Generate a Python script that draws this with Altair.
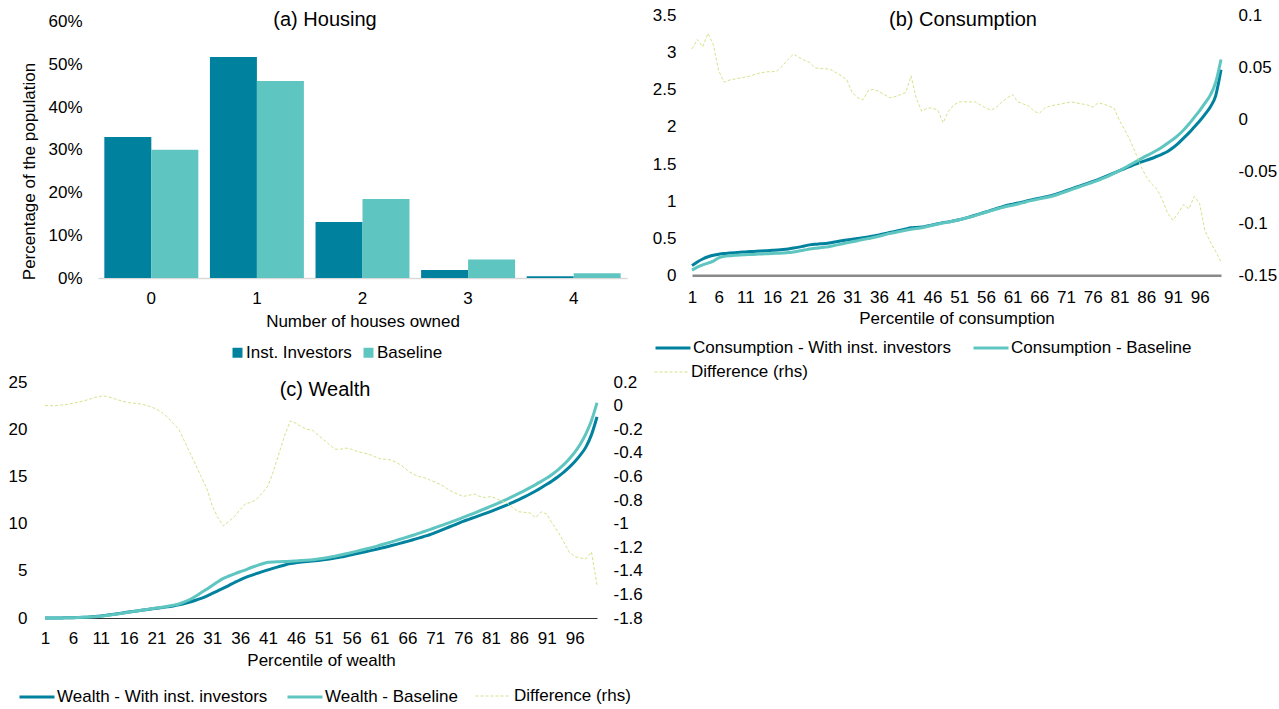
import altair as alt
import pandas as pd

FONT = "Liberation Sans"
DARK = "#00819E"
LIGHT = "#5EC5C1"
DIFF = "#D4E38A"
W, H = 1279, 709

# ---------------- data ----------------
houses = ["0", "1", "2", "3", "4"]
housing_groups = ["Inst. Investors", "Baseline"]
housing_inst = [33.0, 51.7, 13.1, 1.9, 0.4]
housing_base = [30.0, 46.1, 18.5, 4.3, 1.1]

percentiles = list(range(1, 101))
pct_ticks = [1, 6, 11, 16, 21, 26, 31, 36, 41, 46, 51, 56, 61, 66, 71, 76, 81, 86, 91, 96]

cons_series = ["Consumption - With inst. investors", "Consumption - Baseline"]
cons_inst = [0.13, 0.18, 0.22, 0.25, 0.27, 0.285, 0.295, 0.30, 0.305, 0.31,
             0.315, 0.32, 0.323, 0.327, 0.332, 0.337, 0.342, 0.348, 0.356, 0.367,
             0.38, 0.395, 0.41, 0.42, 0.425, 0.43, 0.44, 0.452, 0.465, 0.477,
             0.487, 0.497, 0.507, 0.518, 0.53, 0.545, 0.56, 0.576, 0.592, 0.608,
             0.625, 0.64, 0.645, 0.65, 0.665, 0.68, 0.695, 0.71, 0.72, 0.735,
             0.75, 0.768, 0.788, 0.81, 0.832, 0.855, 0.877, 0.90, 0.922, 0.945,
             0.96, 0.975, 0.99, 1.01, 1.025, 1.04, 1.055, 1.07, 1.09, 1.115,
             1.14, 1.165, 1.19, 1.215, 1.24, 1.265, 1.29, 1.32, 1.35, 1.38,
             1.41, 1.44, 1.47, 1.50, 1.525, 1.55, 1.575, 1.605, 1.635, 1.67,
             1.72, 1.78, 1.85, 1.92, 2.00, 2.08, 2.17, 2.27, 2.42, 2.77]
cons_base = [0.07, 0.11, 0.14, 0.165, 0.19, 0.235, 0.255, 0.265, 0.27, 0.275,
             0.278, 0.281, 0.284, 0.287, 0.29, 0.293, 0.297, 0.301, 0.306, 0.315,
             0.327, 0.34, 0.355, 0.365, 0.372, 0.38, 0.393, 0.407, 0.422, 0.437,
             0.452, 0.467, 0.482, 0.496, 0.51, 0.527, 0.545, 0.563, 0.578, 0.593,
             0.608, 0.62, 0.63, 0.64, 0.658, 0.675, 0.69, 0.705, 0.718, 0.732,
             0.748, 0.766, 0.785, 0.805, 0.828, 0.85, 0.872, 0.893, 0.913, 0.93,
             0.945, 0.962, 0.98, 1.0, 1.015, 1.03, 1.045, 1.06, 1.08, 1.105,
             1.13, 1.155, 1.18, 1.205, 1.23, 1.255, 1.28, 1.31, 1.34, 1.375,
             1.41, 1.45, 1.49, 1.53, 1.57, 1.61, 1.645, 1.685, 1.73, 1.78,
             1.83, 1.89, 1.96, 2.04, 2.13, 2.22, 2.32, 2.43, 2.60, 2.91]
cons_diff = [0.068, 0.077, 0.070, 0.083, 0.072, 0.047, 0.036, 0.038, 0.039, 0.040,
             0.041, 0.042, 0.044, 0.045, 0.046, 0.046, 0.047, 0.052, 0.058, 0.063,
             0.060, 0.057, 0.055, 0.050, 0.049, 0.049, 0.048, 0.045, 0.042, 0.038,
             0.026, 0.021, 0.019, 0.028, 0.029, 0.027, 0.024, 0.021, 0.022, 0.024,
             0.026, 0.042, 0.020, 0.008, 0.011, 0.011, 0.009, -0.003, 0.008, 0.014,
             0.017, 0.017, 0.017, 0.017, 0.014, 0.011, 0.009, 0.012, 0.017, 0.021,
             0.024, 0.017, 0.015, 0.013, 0.008, 0.006, 0.011, 0.013, 0.014, 0.015,
             0.016, 0.017, 0.016, 0.015, 0.014, 0.012, 0.016, 0.015, 0.013, 0.011,
             -0.001, -0.010, -0.020, -0.032, -0.045, -0.055, -0.062, -0.067, -0.077, -0.090,
             -0.097, -0.090, -0.082, -0.086, -0.074, -0.081, -0.107, -0.118, -0.127, -0.137]

wealth_series = ["Wealth - With inst. investors", "Wealth - Baseline"]
wealth_inst = [0.00, 0.00, 0.00, 0.01, 0.02, 0.03, 0.05, 0.07, 0.10, 0.15,
               0.21, 0.28, 0.36, 0.45, 0.54, 0.63, 0.71, 0.79, 0.87, 0.95,
               1.03, 1.10, 1.18, 1.28, 1.40, 1.54, 1.70, 1.88, 2.08, 2.32,
               2.60, 2.88, 3.16, 3.46, 3.76, 4.05, 4.30, 4.52, 4.72, 4.92,
               5.10, 5.28, 5.45, 5.62, 5.76, 5.86, 5.92, 5.98, 6.04, 6.10,
               6.17, 6.26, 6.35, 6.45, 6.57, 6.70, 6.83, 6.96, 7.09, 7.22,
               7.36, 7.50, 7.65, 7.80, 7.96, 8.12, 8.29, 8.46, 8.64, 8.82,
               9.05, 9.28, 9.52, 9.76, 10.00, 10.24, 10.45, 10.66, 10.87, 11.08,
               11.30, 11.53, 11.77, 12.02, 12.28, 12.55, 12.84, 13.14, 13.46, 13.80,
               14.16, 14.55, 14.97, 15.43, 15.95, 16.55, 17.25, 18.10, 19.40, 21.30]
wealth_base = [0.00, 0.00, 0.00, 0.01, 0.02, 0.03, 0.05, 0.07, 0.10, 0.14,
               0.19, 0.26, 0.34, 0.43, 0.52, 0.61, 0.70, 0.79, 0.88, 0.97,
               1.06, 1.15, 1.25, 1.36, 1.48, 1.70, 1.96, 2.30, 2.68, 3.05,
               3.45, 3.85, 4.20, 4.45, 4.68, 4.90, 5.10, 5.35, 5.55, 5.75,
               5.90, 5.94, 5.96, 5.98, 6.00, 6.04, 6.08, 6.13, 6.18, 6.25,
               6.33, 6.43, 6.55, 6.67, 6.80, 6.94, 7.08, 7.23, 7.38, 7.53,
               7.70, 7.87, 8.04, 8.22, 8.40, 8.58, 8.77, 8.96, 9.16, 9.36,
               9.57, 9.78, 9.99, 10.21, 10.43, 10.66, 10.89, 11.12, 11.36, 11.60,
               11.85, 12.10, 12.36, 12.63, 12.91, 13.20, 13.50, 13.81, 14.13, 14.47,
               14.83, 15.22, 15.70, 16.22, 16.85, 17.55, 18.40, 19.50, 20.90, 22.80]
wealth_diff = [0.00, 0.00, 0.00, 0.005, 0.01, 0.02, 0.03, 0.04, 0.055, 0.07,
               0.08, 0.08, 0.065, 0.05, 0.035, 0.025, 0.02, 0.015, 0.005, -0.01,
               -0.03, -0.06, -0.10, -0.15, -0.20, -0.30, -0.40, -0.50, -0.60, -0.70,
               -0.85, -0.95, -1.02, -0.98, -0.94, -0.88, -0.83, -0.82, -0.79, -0.74,
               -0.68, -0.55, -0.40, -0.25, -0.13, -0.15, -0.18, -0.20, -0.21, -0.25,
               -0.29, -0.33, -0.37, -0.37, -0.36, -0.37, -0.39, -0.40, -0.41, -0.43,
               -0.45, -0.455, -0.46, -0.48, -0.51, -0.55, -0.58, -0.60, -0.61, -0.63,
               -0.65, -0.67, -0.70, -0.73, -0.75, -0.77, -0.76, -0.75, -0.77, -0.78,
               -0.77, -0.79, -0.81, -0.83, -0.87, -0.90, -0.905, -0.91, -0.95, -0.90,
               -0.92, -1.00, -1.07, -1.15, -1.24, -1.28, -1.29, -1.30, -1.24, -1.52]
diff_label = ["Difference (rhs)"]

# ---------------- tables ----------------
dfA = pd.DataFrame({
    "house": houses * 2,
    "group": [g for g in housing_groups for _ in houses],
    "share": housing_inst + housing_base,
})
dfB = pd.DataFrame({
    "pct": percentiles * 2,
    "series": [s for s in cons_series for _ in percentiles],
    "value": cons_inst + cons_base,
})
dfBd = pd.DataFrame({"pct": percentiles, "series": diff_label * 100, "value": cons_diff})
dfC = pd.DataFrame({
    "pct": percentiles * 2,
    "series": [s for s in wealth_series for _ in percentiles],
    "value": wealth_inst + wealth_base,
})
dfCd = pd.DataFrame({"pct": percentiles, "series": diff_label * 100, "value": wealth_diff})

num_label = "datum.value + ''"

# ---------------- panel (a) ----------------
bars = alt.Chart(dfA).mark_bar().encode(
    x=alt.X("house:N", sort=houses,
            scale=alt.Scale(range=[98, 627], paddingInner=0.11, paddingOuter=0.06),
            axis=alt.Axis(orient="bottom", offset=278 - H, title="Number of houses owned",
                          labelAngle=0, ticks=False, domainColor="#D9D9D9", domainWidth=1.5,
                          labelPadding=12, titlePadding=7)),
    xOffset=alt.XOffset("group:N", sort=housing_groups,
                        scale=alt.Scale(paddingInner=0, paddingOuter=0)),
    y=alt.Y("share:Q", scale=alt.Scale(domain=[0, 60], range=[278, 21.5], nice=False),
            axis=alt.Axis(orient="left", offset=-98, values=[0, 10, 20, 30, 40, 50, 60],
                          labelExpr="datum.value + '%'", title="Percentage of the population",
                          titleY=171, domain=False, ticks=False, labelPadding=16, titlePadding=9)),
    color=alt.Color("group:N", sort=housing_groups,
                    scale=alt.Scale(domain=housing_groups, range=[DARK, LIGHT]),
                    legend=alt.Legend(orient="none", legendX=229, legendY=344, direction="horizontal",
                                      columns=2, title=None, symbolType="square", symbolSize=100,
                                      labelOffset=0, columnPadding=8, padding=0)),
)

# ---------------- panel (b) ----------------
xB_scale = alt.Scale(domain=[1, 100], range=[692, 1221], nice=False, zero=False)
b_lines = alt.Chart(dfB).mark_line(strokeWidth=3, interpolate="monotone").encode(
    x=alt.X("pct:Q", scale=xB_scale,
            axis=alt.Axis(orient="bottom", offset=275.3 - H, values=pct_ticks,
                          title="Percentile of consumption", labelFlush=False, labelOverlap=False,
                          ticks=False, domainColor="#898989", domainWidth=2.5,
                          labelPadding=14, titlePadding=5)),
    y=alt.Y("value:Q", scale=alt.Scale(domain=[0, 3.5], range=[275.3, 15.7], nice=False),
            axis=alt.Axis(orient="left", offset=-692, values=[0, 0.5, 1, 1.5, 2, 2.5, 3, 3.5],
                          labelExpr=num_label, title=None, domain=False, ticks=False,
                          labelPadding=16)),
    color=alt.Color("series:N", sort=cons_series,
                    scale=alt.Scale(domain=cons_series, range=[DARK, LIGHT]),
                    legend=alt.Legend(orient="none", legendX=654, legendY=329, direction="horizontal",
                                      columns=2, title=None, symbolType="stroke", symbolSize=1225,
                                      symbolStrokeWidth=3, labelOffset=1, columnPadding=16, padding=0)),
)
b_diff = alt.Chart(dfBd).mark_line(strokeWidth=1, strokeDash=[3, 2]).encode(
    x=alt.X("pct:Q", scale=xB_scale, axis=None),
    y=alt.Y("value:Q", scale=alt.Scale(domain=[-0.15, 0.1], range=[275.3, 15.7], nice=False, zero=False),
            axis=alt.Axis(orient="right", offset=1221 - W,
                          values=[-0.15, -0.1, -0.05, 0, 0.05, 0.1],
                          labelExpr=num_label, title=None, domain=False, ticks=False,
                          labelPadding=17)),
    color=alt.Color("series:N", scale=alt.Scale(domain=diff_label, range=[DIFF]),
                    legend=alt.Legend(orient="none", legendX=654, legendY=354, title=None,
                                      symbolType="stroke", symbolSize=1225, symbolStrokeWidth=1,
                                      symbolDash=[3, 2], labelOffset=1, padding=0)),
)

# ---------------- panel (c) ----------------
xC_scale = alt.Scale(domain=[1, 100], range=[45, 597], nice=False, zero=False)
c_lines = alt.Chart(dfC).mark_line(strokeWidth=3, interpolate="monotone").encode(
    x=alt.X("pct:Q", scale=xC_scale,
            axis=alt.Axis(orient="bottom", offset=618 - H, values=pct_ticks,
                          title="Percentile of wealth", labelFlush=False, labelOverlap=False,
                          ticks=False, domainColor="#333333", domainWidth=1.2,
                          labelPadding=12, titlePadding=6)),
    y=alt.Y("value:Q", scale=alt.Scale(domain=[0, 25], range=[618, 382], nice=False),
            axis=alt.Axis(orient="left", offset=-45, values=[0, 5, 10, 15, 20, 25],
                          labelExpr=num_label, title=None, domain=False, ticks=False,
                          labelPadding=18)),
    color=alt.Color("series:N", sort=wealth_series,
                    scale=alt.Scale(domain=wealth_series, range=[DARK, LIGHT]),
                    legend=alt.Legend(orient="none", legendX=18, legendY=678, direction="horizontal",
                                      columns=2, title=None, symbolType="stroke", symbolSize=1225,
                                      symbolStrokeWidth=3, labelOffset=1, columnPadding=13, padding=0)),
)
c_diff = alt.Chart(dfCd).mark_line(strokeWidth=1, strokeDash=[3, 2]).encode(
    x=alt.X("pct:Q", scale=xC_scale, axis=None),
    y=alt.Y("value:Q", scale=alt.Scale(domain=[-1.8, 0.2], range=[618, 382], nice=False, zero=False),
            axis=alt.Axis(orient="right", offset=597 - W,
                          values=[-1.8, -1.6, -1.4, -1.2, -1, -0.8, -0.6, -0.4, -0.2, 0, 0.2],
                          labelExpr=num_label, title=None, domain=False, ticks=False,
                          labelPadding=16)),
    color=alt.Color("series:N", scale=alt.Scale(domain=diff_label, range=[DIFF]),
                    legend=alt.Legend(orient="none", legendX=475, legendY=678, title=None,
                                      symbolType="stroke", symbolSize=1225, symbolStrokeWidth=1,
                                      symbolDash=[3, 2], labelOffset=3, padding=0)),
)

# ---------------- panel titles ----------------
def panel_title(text, x, y):
    return alt.Chart(pd.DataFrame({"t": [text]})).mark_text(
        font=FONT, fontSize=20, color="black", align="center", baseline="middle"
    ).encode(text="t:N", x=alt.value(x), y=alt.value(y))

titles = [panel_title("(a) Housing", 325, 20),
          panel_title("(b) Consumption", 963, 20),
          panel_title("(c) Wealth", 325, 390)]

chart = alt.layer(bars, b_lines, b_diff, c_lines, c_diff, *titles).resolve_scale(
    x="independent", y="independent", color="independent"
).properties(
    width=W, height=H, padding=0, autosize=alt.AutoSizeParams(type="none"), background="white"
).configure_view(stroke=None).configure_axis(
    labelFont=FONT, titleFont=FONT, labelFontSize=17, titleFontSize=17,
    labelColor="black", titleColor="black", titleFontWeight="normal", grid=False
).configure_legend(
    labelFont=FONT, labelFontSize=17, labelColor="black", labelLimit=600
)

chart.save("out.html", embed_options={"renderer": "svg", "actions": False})
